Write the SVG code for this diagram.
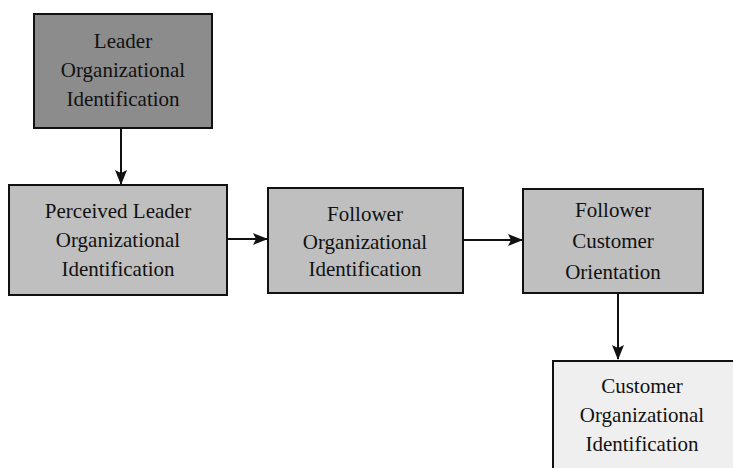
<svg xmlns="http://www.w3.org/2000/svg" width="733" height="468" viewBox="0 0 733 468">
<style>
.box{stroke:#111;stroke-width:2}
.t{font-family:'Liberation Serif','Times New Roman',Times,'DejaVu Serif',serif;font-size:21px;fill:#111;text-anchor:middle}
.c{stroke:#111;stroke-width:2;fill:none;marker-end:url(#ah)}
</style>
<defs>
<marker id="ah" markerWidth="15" markerHeight="12" refX="14" refY="6" orient="auto" markerUnits="userSpaceOnUse">
<path d="M0,0 L15,6 L0,12 L3,6 Z" fill="#111"/>
</marker>
</defs>
<rect width="733" height="468" fill="#fff"/>
<g id="connectors">
<line class="c" x1="121" y1="129" x2="121" y2="184"/>
<line class="c" x1="227" y1="239" x2="267" y2="239"/>
<line class="c" x1="463" y1="240" x2="522" y2="240"/>
<line class="c" x1="618" y1="293" x2="618" y2="359"/>
</g>
<g id="n1">
<rect class="box" x="34" y="14" width="178" height="114" fill="#8c8c8c"/>
<text class="t" x="123" y="48" font-family="Liberation Serif, serif">Leader</text>
<text class="t" x="123" y="77" font-family="Liberation Serif, serif">Organizational</text>
<text class="t" x="123" y="106" font-family="Liberation Serif, serif">Identification</text>
</g>
<g id="n2">
<rect class="box" x="9" y="185" width="218" height="110" fill="#bfbfbf"/>
<text class="t" x="118" y="218">Perceived Leader</text>
<text class="t" x="118" y="247">Organizational</text>
<text class="t" x="118" y="276">Identification</text>
</g>
<g id="n3">
<rect class="box" x="268" y="188" width="195" height="105" fill="#bfbfbf"/>
<text class="t" x="365" y="221">Follower</text>
<text class="t" x="365" y="249">Organizational</text>
<text class="t" x="365" y="276">Identification</text>
</g>
<g id="n4">
<rect class="box" x="523" y="189" width="180" height="104" fill="#bfbfbf"/>
<text class="t" x="613" y="217">Follower</text>
<text class="t" x="613" y="248">Customer</text>
<text class="t" x="613" y="279">Orientation</text>
</g>
<g id="n5">
<rect class="box" x="553" y="361" width="182" height="112" fill="#efefef"/>
<text class="t" x="642" y="393">Customer</text>
<text class="t" x="642" y="422">Organizational</text>
<text class="t" x="642" y="451">Identification</text>
</g>
</svg>
